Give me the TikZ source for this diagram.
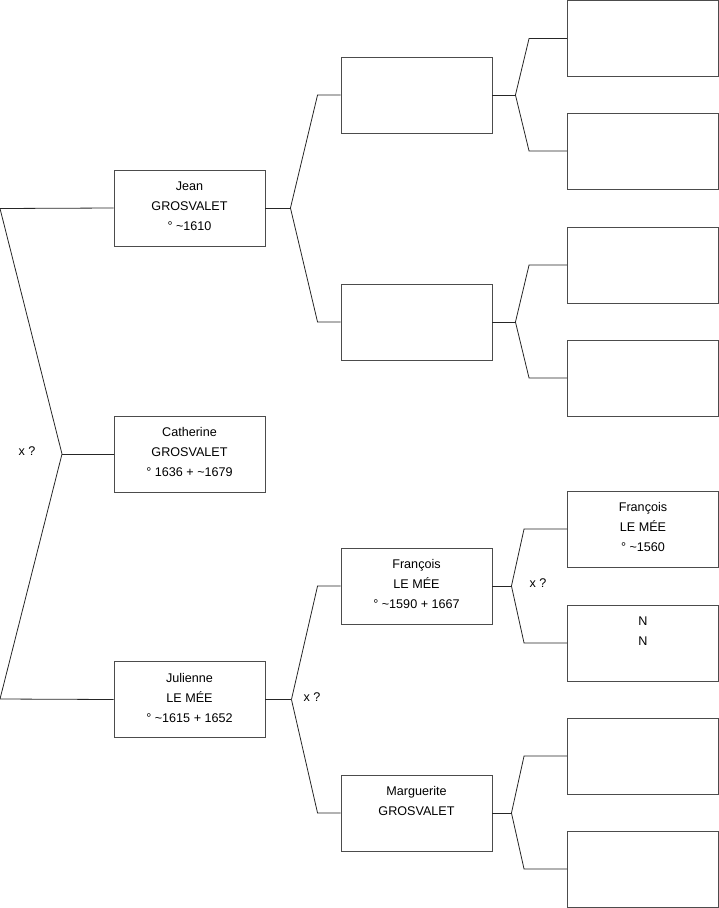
\documentclass[tikz,border=0pt]{standalone}
\usepackage{fontspec}
\setmainfont{Liberation Sans}
\usetikzlibrary{positioning, calc}

\begin{document}
\begin{tikzpicture}[
    x = 1pt, y = -1pt,
    person/.style = {
        rectangle, draw=black!70, line width=0.9pt,
        minimum width  = 151pt,
        minimum height = 76pt,
        inner sep      = 0pt,
        align          = center,
        font           = \fontsize{12.6}{20}\selectfont,
        execute at end node = {\rule[-4pt]{0pt}{4pt}}
    },
    link/.style  = { draw=black!85, line width=0.8pt },
    union/.style = { font=\fontsize{12.6}{14}\selectfont, inner sep=0pt },
]
\useasboundingbox (0,0) rectangle (719,908);

%% ── Generation 1 ─────────────────────────────────────────────────────────
\node[person] (jean)      at (189.5,208)   {Jean\\GROSVALET\\° \textasciitilde1610};
\node[person] (catherine) at (189.5,454)   {Catherine\\GROSVALET\\° 1636 + \textasciitilde1679};
\node[person] (julienne)  at (189.5,699.5) {Julienne\\LE MÉE\\° \textasciitilde1615 + 1652};

%% ── Generation 2 ─────────────────────────────────────────────────────────
\node[person] (pjean)     at (416.5,95)  {};
\node[person] (mjean)     at (416.5,322) {};
\node[person] (francois)  at (416.5,586) {François\\LE MÉE\\° \textasciitilde1590 + 1667};
\node[person] (marguerite) at (416.5,813) {Marguerite\\GROSVALET\\\mbox{}};

%% ── Generation 3 ─────────────────────────────────────────────────────────
\node[person] (ppjean)    at (643,38.5) {};
\node[person] (mpjean)    at (643,151)  {};
\node[person] (pmjean)    at (643,265)  {};
\node[person] (mmjean)    at (643,378)  {};
\node[person] (pfrancois) at (643,529)  {François\\LE MÉE\\° \textasciitilde1560};
\node[person] (mfrancois) at (643,643)  {N\\N\\\mbox{}};
\node[person] (pmarg)     at (643,756)  {};
\node[person] (mmarg)     at (643,869)  {};

%% ── Couple of Catherine ──────────────────────────────────────────────────
\coordinate (ljean) at (0,208.5);
\coordinate (ljul)  at (0,699);
\coordinate (fcat)  at (62,454);
\draw[link] (jean.west) -- (ljean) -- (fcat) -- (ljul) -- (julienne.west);
\draw[link] (fcat) -- (catherine.west);
\node[union] (xcat) at (27,451) {x ?};

%% ── Forks towards the parents ────────────────────────────────────────────
\coordinate (fjean) at ([xshift=25pt] jean.east);
\draw[link] (jean.east) -- (fjean);
\draw[link] (fjean) -- ([xshift=-23pt] pjean.west) -- (pjean.west);
\draw[link] (fjean) -- ([xshift=-23pt] mjean.west) -- (mjean.west);

\coordinate (fjul) at ([xshift=26pt] julienne.east);
\draw[link] (julienne.east) -- (fjul);
\draw[link] (fjul) -- ([xshift=-23pt] francois.west) -- (francois.west);
\draw[link] (fjul) -- ([xshift=-23pt] marguerite.west) -- (marguerite.west);
\node[union] (xjul) at (312,697) {x ?};

\coordinate (fpjean) at ([xshift=23pt] pjean.east);
\draw[link] (pjean.east) -- (fpjean);
\draw[link] (fpjean) -- ([xshift=-38pt] ppjean.west) -- (ppjean.west);
\draw[link] (fpjean) -- ([xshift=-38pt] mpjean.west) -- (mpjean.west);

\coordinate (fmjean) at ([xshift=23pt] mjean.east);
\draw[link] (mjean.east) -- (fmjean);
\draw[link] (fmjean) -- ([xshift=-38pt] pmjean.west) -- (pmjean.west);
\draw[link] (fmjean) -- ([xshift=-38pt] mmjean.west) -- (mmjean.west);

\coordinate (ffran) at ([xshift=19pt] francois.east);
\draw[link] (francois.east) -- (ffran);
\draw[link] (ffran) -- ([xshift=-43pt] pfrancois.west) -- (pfrancois.west);
\draw[link] (ffran) -- ([xshift=-43pt] mfrancois.west) -- (mfrancois.west);
\node[union] (xfran) at (538,583) {x ?};

\coordinate (fmarg) at ([xshift=19pt] marguerite.east);
\draw[link] (marguerite.east) -- (fmarg);
\draw[link] (fmarg) -- ([xshift=-43pt] pmarg.west) -- (pmarg.west);
\draw[link] (fmarg) -- ([xshift=-43pt] mmarg.west) -- (mmarg.west);

\end{tikzpicture}
\end{document}
